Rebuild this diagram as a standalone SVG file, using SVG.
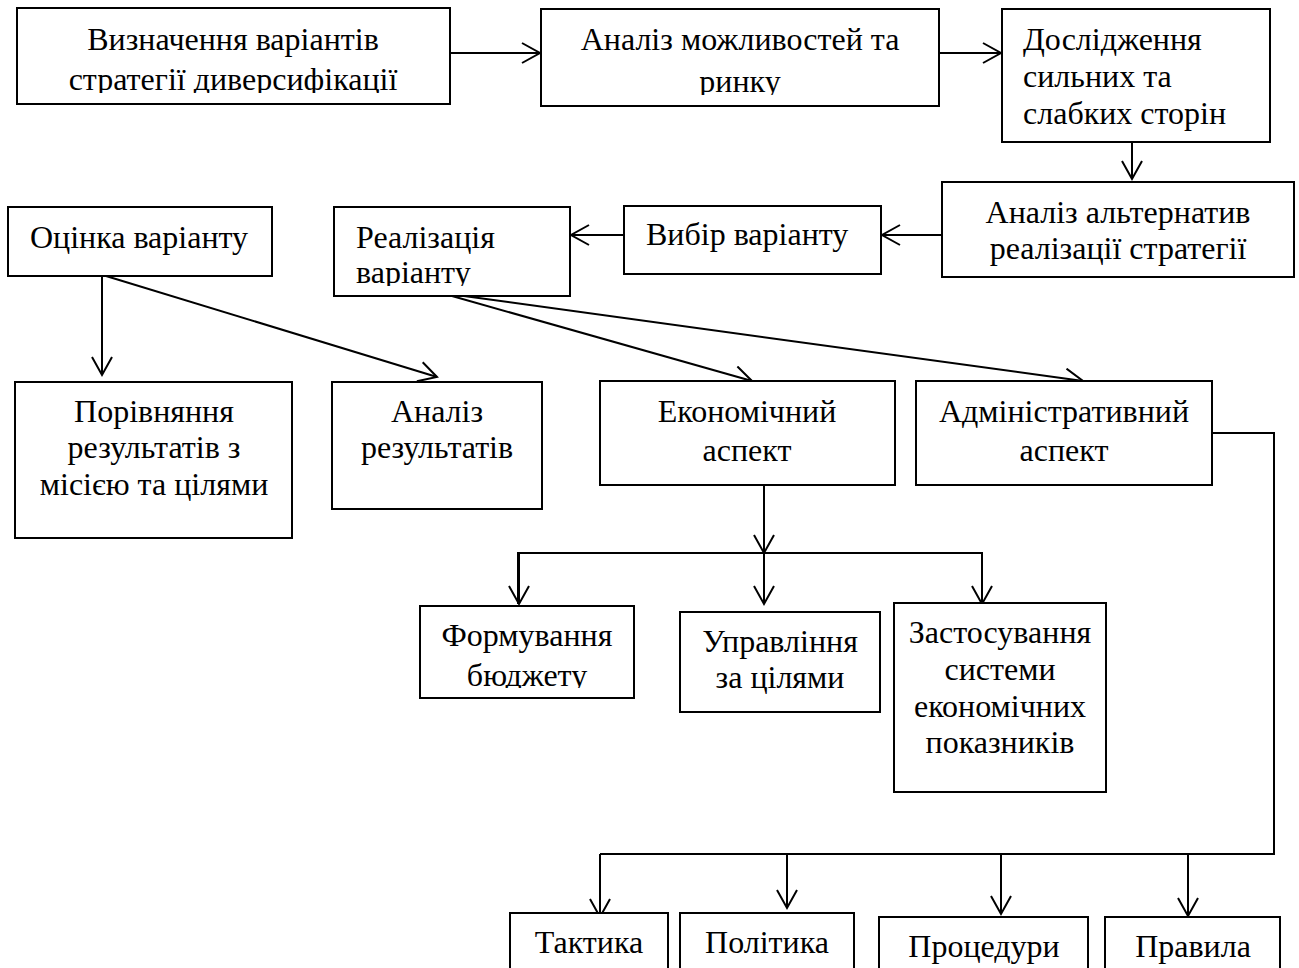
<svg xmlns="http://www.w3.org/2000/svg" width="1299" height="968" viewBox="0 0 1299 968">
<style>
.b{fill:#fff;stroke:#000;stroke-width:2}
.t{font-family:"Liberation Serif","Times New Roman",serif;font-size:32px;fill:#000}
.m{text-anchor:middle}
.c{fill:none;stroke:#000;stroke-width:2}
.a{marker-end:url(#ar)}
</style>
<defs>
<marker id="ar" markerUnits="userSpaceOnUse" markerWidth="22" markerHeight="24" refX="19" refY="11" orient="auto">
<path d="M1,1 L19,11 L1,21" fill="none" stroke="#000" stroke-width="2"/>
</marker>
<clipPath id="k1"><rect x="0" y="0" width="1299" height="93"/></clipPath>
<clipPath id="k2"><rect x="0" y="0" width="1299" height="95"/></clipPath>
<clipPath id="k3"><rect x="0" y="0" width="1299" height="286"/></clipPath>
<clipPath id="k4"><rect x="0" y="0" width="1299" height="688"/></clipPath>
</defs>
<rect width="1299" height="968" fill="#fff"/>
<g id="connectors">
<line class="c a" x1="450" y1="53" x2="540" y2="53"/>
<line class="c a" x1="939" y1="53" x2="1001" y2="53"/>
<line class="c a" x1="1132" y1="142" x2="1132" y2="179"/>
<line class="c a" x1="942" y1="235" x2="882" y2="235"/>
<line class="c a" x1="624" y1="235" x2="571" y2="235"/>
<line class="c a" x1="102" y1="276" x2="102" y2="375"/>
<line class="c a" x1="106" y1="276" x2="437" y2="377"/>
<line class="c a" x1="452" y1="296" x2="752" y2="381"/>
<line class="c a" x1="464" y1="296" x2="1083" y2="381"/>
<line class="c a" x1="764" y1="485" x2="764" y2="553"/>
<polyline class="c" points="518,604 518,553 982,553 982,604"/>
<line class="c a" x1="519" y1="553" x2="519" y2="604"/>
<line class="c a" x1="764" y1="553" x2="764" y2="604"/>
<line class="c a" x1="982" y1="553" x2="982" y2="604"/>
<polyline class="c" points="1212,433 1274,433 1274,854 600,854"/>
<line class="c a" x1="600" y1="854" x2="600" y2="917"/>
<line class="c a" x1="787" y1="854" x2="787" y2="908"/>
<line class="c a" x1="1001" y1="854" x2="1001" y2="914"/>
<line class="c a" x1="1188" y1="854" x2="1188" y2="916"/>
</g>
<g id="n1"><rect class="b" x="17" y="8" width="433" height="96"/>
<text class="t m" x="233" y="50">Визначення варіантів</text>
<text class="t m" x="233" y="90" clip-path="url(#k1)">стратегії диверсифікації</text></g>
<g id="n2"><rect class="b" x="541" y="9" width="398" height="97"/>
<text class="t m" x="740" y="50">Аналіз можливостей та</text>
<text class="t m" x="740" y="92" clip-path="url(#k2)">ринку</text></g>
<g id="n3"><rect class="b" x="1002" y="9" width="268" height="133"/>
<text class="t" x="1023" y="50">Дослідження</text>
<text class="t" x="1023" y="87">сильних та</text>
<text class="t" x="1023" y="124">слабких сторін</text></g>
<g id="n4"><rect class="b" x="942" y="182" width="352" height="95"/>
<text class="t m" x="1118" y="223">Аналіз альтернатив</text>
<text class="t m" x="1118" y="259">реалізації стратегії</text></g>
<g id="n5"><rect class="b" x="624" y="206" width="257" height="68"/>
<text class="t" x="646" y="245">Вибір варіанту</text></g>
<g id="n6"><rect class="b" x="334" y="207" width="236" height="89"/>
<text class="t" x="356" y="248">Реалізація</text>
<text class="t" x="356" y="283" clip-path="url(#k3)">варіанту</text></g>
<g id="n7"><rect class="b" x="8" y="207" width="264" height="69"/>
<text class="t m" x="139" y="248">Оцінка варіанту</text></g>
<g id="n8"><rect class="b" x="15" y="382" width="277" height="156"/>
<text class="t m" x="154" y="422">Порівняння</text>
<text class="t m" x="154" y="458">результатів з</text>
<text class="t m" x="154" y="495">місією та цілями</text></g>
<g id="n9"><rect class="b" x="332" y="382" width="210" height="127"/>
<text class="t m" x="437" y="422">Аналіз</text>
<text class="t m" x="437" y="458">результатів</text></g>
<g id="n10"><rect class="b" x="600" y="381" width="295" height="104"/>
<text class="t m" x="747" y="422">Економічний</text>
<text class="t m" x="747" y="461">аспект</text></g>
<g id="n11"><rect class="b" x="916" y="381" width="296" height="104"/>
<text class="t m" x="1064" y="422">Адміністративний</text>
<text class="t m" x="1064" y="461">аспект</text></g>
<g id="n12"><rect class="b" x="420" y="606" width="214" height="92"/>
<text class="t m" x="527" y="646">Формування</text>
<text class="t m" x="527" y="686" clip-path="url(#k4)">бюджету</text></g>
<g id="n13"><rect class="b" x="680" y="612" width="200" height="100"/>
<text class="t m" x="780" y="652">Управління</text>
<text class="t m" x="780" y="688">за цілями</text></g>
<g id="n14"><rect class="b" x="894" y="603" width="212" height="189"/>
<text class="t m" x="1000" y="643">Застосування</text>
<text class="t m" x="1000" y="680">системи</text>
<text class="t m" x="1000" y="717">економічних</text>
<text class="t m" x="1000" y="753">показників</text></g>
<g id="n15"><rect class="b" x="510" y="913" width="158" height="70"/>
<text class="t m" x="589" y="953">Тактика</text></g>
<g id="n16"><rect class="b" x="680" y="913" width="174" height="70"/>
<text class="t m" x="767" y="953">Політика</text></g>
<g id="n17"><rect class="b" x="879" y="917" width="209" height="70"/>
<text class="t m" x="984" y="957">Процедури</text></g>
<g id="n18"><rect class="b" x="1105" y="917" width="175" height="70"/>
<text class="t m" x="1193" y="957">Правила</text></g>
</svg>
